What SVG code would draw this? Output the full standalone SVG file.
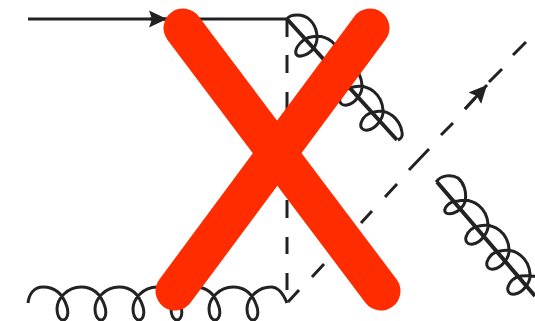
<svg xmlns="http://www.w3.org/2000/svg" width="535" height="321" viewBox="0 0 535 321">
<defs>
<style>
.s{fill:none;stroke:#222;stroke-linecap:butt}
.g{stroke-width:3}
.f{stroke-width:4}
.d{stroke-width:3}
.x{fill:none;stroke:#ff2c00;stroke-width:39;stroke-linecap:round}
</style>
<marker id="ah" markerUnits="userSpaceOnUse" markerWidth="20" markerHeight="18" refX="18" refY="9" orient="auto">
<path d="M0 0.5L18 9L0 17.500L3 9Z" fill="#222"/>
</marker>
</defs>
<g id="connectors">
<path class="s d" d="M28 19H287"/>
<path class="s d" d="M150 19H167" marker-end="url(#ah)"/>
<path class="s d" d="M287 19V37M287 55V73M287 92V110M287 128V146M287 164V182M287 200V218M287 237V254M287 273V290"/>
<path class="s d" d="M288 302L299 290M312 277L324 264M336 250L348 237M361 223L372 211M385 197L397 184M409 170L429 149M441 135L453 123M465 109L475 98M489 82L502 69M513 55L526 42"/>
<path class="s d" d="M465 109L487 85" marker-end="url(#ah)"/>
<path class="s f" d="M287 19L397 140"/>
<path class="s f" d="M437 182L535 296"/>
<path class="s g" d="M287 19C290 14 303 13 310 20C317 27 319 38 315 46C311 54 299 59 296 54C294 48 303 38 311 37c16 -4 29 8 30 23c1 9 -8 19 -15 20c-6 1 -8 -3 -7 -7c2 -6 7 -10 13 -11c16 -4 29 8 30 23c1 9 -8 19 -15 20c-6 1 -8 -3 -7 -7c2 -6 7 -10 13 -11c16 -4 29 8 30 23c1 9 -8 19 -15 20c-6 1 -8 -3 -7 -7c2 -6 7 -10 13 -11c15 -4 26 8 28 20c1 4 -1 7 -4 8"/>
<path class="s g" d="M436 182C441 175 452 174 458 178C464 183 467 192 465 202C462 210 452 216 446 213C442 209 449 201 458 201c16 -4 29 8 30 23c1 9 -8 19 -15 20c-6 1 -8 -3 -7 -7c2 -6 7 -10 13 -11c16 -4 29 8 30 23c1 9 -8 19 -15 20c-6 1 -8 -3 -7 -7c2 -6 7 -10 13 -11c16 -4 29 8 30 23c1 9 -8 19 -15 20c-6 1 -8 -3 -7 -7c2 -6 7 -10 13 -11c8 -1 14 0 20 1"/>
<path class="s g" d="M28 303C29 294 34 287 43 287c12 0 20 7 24 20c2 7 0 13 -4 13c-4 0 -6 -6 -6 -11c0 -10 10 -22 24 -22c12 0 20 7 24 20c2 7 0 13 -4 13c-4 0 -6 -6 -6 -11c0 -10 10 -22 24 -22c12 0 20 7 24 20c2 7 0 13 -4 13c-4 0 -6 -6 -6 -11c0 -10 10 -22 24 -22c12 0 20 7 24 20c2 7 0 13 -4 13c-4 0 -6 -6 -6 -11c0 -10 10 -22 24 -22c12 0 20 7 24 20c2 7 0 13 -4 13c-4 0 -6 -6 -6 -11c0 -10 10 -22 24 -22c12 0 20 7 24 20c2 7 0 13 -4 13c-4 0 -6 -6 -6 -11c0 -10 10 -22 24 -22c7 0 12 6 16 16"/>
</g>
<g id="cross">
<path class="x" d="M183 28L381 291"/>
<path class="x" d="M370 28L175 291"/>
</g>
</svg>
